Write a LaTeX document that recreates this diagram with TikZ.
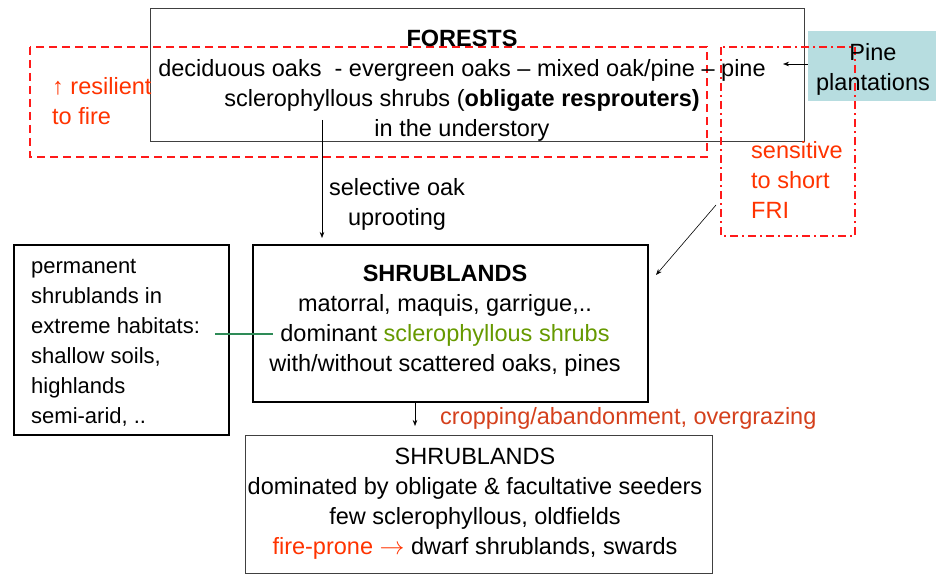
\documentclass[tikz,border=0pt]{standalone}
\usepackage{fontspec}
\setmainfont{Liberation Sans}
\usetikzlibrary{arrows.meta}
\definecolor{firered}{HTML}{FF3300}
\definecolor{dashred}{HTML}{FF1A1A}
\definecolor{cropred}{HTML}{D4401C}
\definecolor{sclgreen}{HTML}{669900}
\definecolor{linkgreen}{HTML}{2E8B57}
\definecolor{pineblue}{HTML}{B7DDE0}
\definecolor{boxgray}{HTML}{404040}
\tikzset{
  txt/.style={font=\fontsize{23.5}{30}\selectfont, inner sep=0pt},
  smalltxt/.style={font=\fontsize{22}{30}\selectfont, inner sep=0pt},
  thinbox/.style={draw=boxgray, line width=0.9pt},
  thickbox/.style={draw=black, line width=1.6pt},
  arr/.style={-{Stealth[length=6pt,width=4.5pt]}, line width=0.6pt, black},
  reddash/.style={draw=dashred, line width=1.4pt, dash pattern=on 8pt off 5pt},
  reddashdot/.style={draw=dashred, line width=1.4pt, dash pattern=on 8pt off 4pt on 2pt off 4pt},
}
\begin{document}
\begin{tikzpicture}[x=1pt,y=-1pt]
\useasboundingbox (0,0) rectangle (936,575);
% boxes
\node[thinbox, minimum width=654pt, minimum height=133pt, inner sep=0pt] (forests) at (477,74.5) {};
\node[fill=pineblue, minimum width=128pt, minimum height=70pt, inner sep=0pt] (pine) at (872,66) {};
\node[thickbox, minimum width=395pt, minimum height=157pt, inner sep=0pt] (shrub) at (450.5,323.5) {};
\node[thickbox, minimum width=215pt, minimum height=190pt, inner sep=0pt] (perm) at (121.5,340) {};
\node[thinbox, minimum width=467pt, minimum height=138pt, inner sep=0pt] (seed) at (478.5,504) {};
% red dashed regions
\draw[reddash] (30,47) rectangle (707,157);
\draw[reddashdot] (721,47) rectangle (855,236);
% texts
\node[txt, align=center] (ftxt) at (462,86) {\textbf{FORESTS}\\deciduous oaks \ - evergreen oaks – mixed oak/pine – pine\\sclerophyllous shrubs (\textbf{obligate resprouters)}\\in the understory};
\node[txt, align=center] (ptxt) at (873,69) {Pine\\plantations};
\node[txt, align=left, text=firered, anchor=west] (resil) at (52,101) {↑ resilient\\to fire};
\node[txt, align=left, text=firered, anchor=west] (sens) at (751,180) {sensitive\\to short\\FRI};
\node[txt, align=center] (sel) at (397,204) {selective oak\\uprooting};
\node[txt, align=center] (stxt) at (445,321) {\textbf{SHRUBLANDS}\\matorral, maquis, garrigue,..\\dominant \textcolor{sclgreen}{sclerophyllous shrubs}\\with/without scattered oaks, pines};
\node[smalltxt, align=left, anchor=west] (ptx) at (31,343) {permanent\\shrublands in\\extreme habitats:\\shallow soils,\\highlands\\semi-arid, ..};
\node[txt, text=cropred, anchor=west] (crop) at (440,418) {cropping/abandonment, overgrazing};
\node[txt, align=center] (sdtxt) at (475,504) {SHRUBLANDS\\dominated by obligate \& facultative seeders\\few sclerophyllous, oldfields\\\textcolor{firered}{fire-prone $\rightarrow$} dwarf shrublands, swards};
% connectors
\coordinate (fa) at (322,120);
\coordinate (fb) at (322,238);
\draw[arr] (fa) -- (fb);
\coordinate (pa) at (783,64);
\draw[arr] (pine.west |- pa) -- (pa);
\coordinate (da) at (716,205);
\coordinate (db) at (656,275);
\draw[arr] (da) -- (db);
\coordinate (ga) at (215,334);
\coordinate (gb) at (273,334);
\draw[linkgreen, line width=1.2pt] (ga) -- (gb);
\coordinate (sa) at (415,426);
\draw[arr] (shrub.south -| sa) -- (sa);
\end{tikzpicture}
\end{document}
